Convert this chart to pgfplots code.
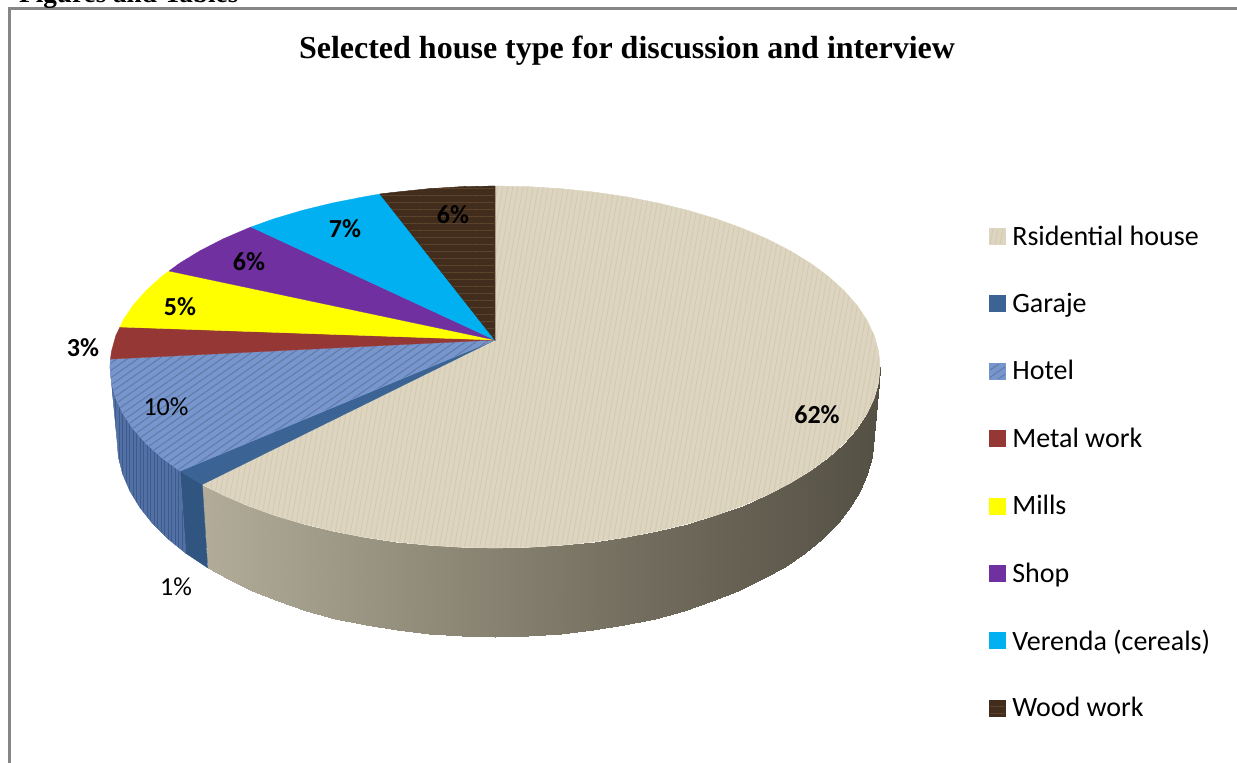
\documentclass[border=0pt]{standalone}
\usepackage{fontspec}
\setmainfont{Liberation Serif}
\newfontfamily\calfont{Carlito}
\usepackage{pgfplots}
\pgfplotsset{compat=1.18}
\usetikzlibrary{patterns.meta}

\definecolor{resid}{RGB}{222,213,192}
\definecolor{residdark}{RGB}{210,201,179}
\definecolor{garage}{RGB}{59,100,148}
\definecolor{garageside}{RGB}{47,85,128}
\definecolor{hotel}{RGB}{118,150,205}
\definecolor{hoteldark}{RGB}{60,90,145}
\definecolor{hotelside}{RGB}{82,112,162}
\definecolor{metal}{RGB}{149,55,53}
\definecolor{mills}{RGB}{255,255,0}
\definecolor{shop}{RGB}{112,48,160}
\definecolor{verenda}{RGB}{0,176,240}
\definecolor{wood}{RGB}{66,45,28}
\definecolor{woodlight}{RGB}{92,68,44}
\definecolor{frameline}{RGB}{134,134,134}

\pgfplotsset{
  colormap={wall}{rgb255(0)=(178,172,153) rgb255(1)=(145,139,122) rgb255(2)=(112,107,92) rgb255(3)=(84,80,68)},
  slice/.style={fill=#1, draw=#1, line width=0.3pt},
}
\tikzset{
  lab/.style={font=\calfont\bfseries\fontsize{26}{26}\selectfont},
  labthin/.style={font=\calfont\fontsize{26}{26}\selectfont},
}

\begin{document}
\begin{tikzpicture}
\path[use as bounding box, clip] (0,0) rectangle (1237pt,763pt);
\begin{axis}[
    scale only axis,
    width=1237pt, height=763pt,
    xmin=0, xmax=1237, ymin=0, ymax=763,
    y dir=reverse,
    hide axis,
    clip=false,
    legend cell align=left,
    legend style={
        at={(axis cs:989,202.5)}, anchor=north west,
        draw=none, fill=none, inner sep=0pt, outer sep=0pt,
        row sep=0pt, column sep=7pt,
        font=\calfont\fontsize{28}{28}\selectfont,
        nodes={inner sep=0pt, minimum height=67.4pt},
    },
    legend image code/.code={\path[#1] (0pt,-8pt) rectangle (16pt,8pt);},
]
% frame left over from the page
\addplot[frameline, line width=2.2pt, forget plot] coordinates {(9.5,763) (9.5,8.5) (1237,8.5)};

% side walls
\addplot[surf, shader=interp, mesh/rows=2, point meta=x, point meta min=200, point meta max=880, colormap name=wall, forget plot] table {
x y
880.0 367.0
878.5 382.8
874.2 398.4
866.9 413.8
856.8 428.9
843.9 443.5
828.4 457.5
810.4 470.8
789.9 483.3
767.2 495.0
742.5 505.6
715.8 515.3
687.5 523.7
657.7 531.0
626.7 537.1
594.6 541.8
561.8 545.2
528.6 547.3
495.0 548.0
461.4 547.3
428.2 545.2
395.4 541.8
363.3 537.1
332.3 531.0
302.5 523.7
274.2 515.3
247.5 505.6
222.8 495.0
202.3 484.5
873.0 440.0
871.6 457.2
867.3 474.2
860.1 491.0
850.2 507.4
837.6 523.3
822.3 538.5
804.7 553.0
784.5 566.6
762.3 579.3
738.0 590.9
711.8 601.4
684.0 610.6
654.7 618.5
624.3 625.1
592.8 630.3
560.6 634.0
528.0 636.3
495.0 637.0
462.0 636.3
429.4 634.0
397.2 630.3
365.7 625.1
335.3 618.5
306.0 610.6
278.2 601.4
252.0 590.9
227.7 579.3
207.7 567.9
};
\addplot[slice=garageside, forget plot] coordinates {(202.3,484.5) (207.7,567.9) (185.8,553.3) (180,471)} -- cycle;
\addplot[slice=hotelside, forget plot, postaction={pattern={Lines[angle=90, distance=3.5pt, line width=0.9pt]}, pattern color=hoteldark}] coordinates {(180,471) (185.8,553.3) (167.6,538.5) (152.4,523.3) (139.8,507.4) (129.9,491) (122.7,474.2) (118.4,457.2) (117,440) (110,367) (111.5,382.8) (115.8,398.4) (123.1,413.8) (133.2,428.9) (146.1,443.5) (161.6,457.5)} -- cycle;

% top faces
\addplot[slice=resid, postaction={pattern={Lines[angle=80, distance=5pt, line width=0.8pt]}, pattern color=residdark}] coordinates {(495,340) (495,186) (528.6,186.7) (561.8,188.8) (594.6,192.2) (626.7,196.9) (657.7,203) (687.5,210.3) (715.8,218.7) (742.5,228.4) (767.2,239) (789.9,250.7) (810.4,263.2) (828.4,276.5) (843.9,290.5) (856.8,305.1) (866.9,320.2) (874.2,335.6) (878.5,351.2) (880,367) (878.5,382.8) (874.2,398.4) (866.9,413.8) (856.8,428.9) (843.9,443.5) (828.4,457.5) (810.4,470.8) (789.9,483.3) (767.2,495) (742.5,505.6) (715.8,515.3) (687.5,523.7) (657.7,531) (626.7,537.1) (594.6,541.8) (561.8,545.2) (528.6,547.3) (495,548) (461.4,547.3) (428.2,545.2) (395.4,541.8) (363.3,537.1) (332.3,531) (302.5,523.7) (274.2,515.3) (247.5,505.6) (222.8,495) (202.3,484.5)} -- cycle;
\addlegendentry{Rsidential house}
\addplot[slice=garage] coordinates {(495,340) (202.3,484.5) (180,471)} -- cycle;
\addlegendentry{Garaje}
\addplot[slice=hotel, postaction={pattern={Lines[angle=35, distance=6pt, line width=1.1pt]}, pattern color=hoteldark!80}] coordinates {(495,340) (180,471) (161.6,457.5) (146.1,443.5) (133.2,428.9) (123.1,413.8) (115.8,398.4) (111.5,382.8) (110,367) (110.4,359.1)} -- cycle;
\addlegendentry{Hotel}
\addplot[slice=metal] coordinates {(495,340) (110.4,359.1) (111.5,351.2) (115.8,335.6) (120,327)} -- cycle;
\addlegendentry{Metal work}
\addplot[slice=mills] coordinates {(495,340) (120,327) (123.1,320.2) (133.2,305.1) (146.1,290.5) (161.6,276.5) (169,271)} -- cycle;
\addlegendentry{Mills}
\addplot[slice=shop] coordinates {(495,340) (169,271) (179.6,263.2) (200.1,250.7) (222.8,239) (247.5,228.4) (251,227)} -- cycle;
\addlegendentry{Shop}
\addplot[slice=verenda] coordinates {(495,340) (251,227) (274.2,218.7) (302.5,210.3) (332.3,203) (363.3,196.9) (380,194)} -- cycle;
\addlegendentry{Verenda (cereals)}
\addplot[slice=wood, postaction={pattern={Lines[angle=0, distance=7pt, line width=1pt]}, pattern color=woodlight}] coordinates {(495,340) (380,194) (395.4,192.2) (428.2,188.8) (461.4,186.7) (495,186)} -- cycle;
\addlegendentry{Wood work}

% slice labels
\node[lab] at (axis cs:817,415) {62\%};
\node[labthin] at (axis cs:166,407) {10\%};
\node[labthin] at (axis cs:176,587) {1\%};
\node[lab] at (axis cs:83,348) {3\%};
\node[lab] at (axis cs:180,307) {5\%};
\node[lab] at (axis cs:249,262) {6\%};
\node[lab] at (axis cs:345,229) {7\%};
\node[lab] at (axis cs:453,215) {6\%};

% title and the cut-off heading of the page
\node[font=\bfseries\fontsize{32}{32}\selectfont, inner sep=0pt] at (axis cs:627,51) {Selected house type for discussion and interview};
\node[font=\bfseries\fontsize{27.2}{27.2}\selectfont, anchor=base west, inner sep=0pt] at (axis cs:19,2) {Figures and Tables};
\end{axis}
\end{tikzpicture}
\end{document}
